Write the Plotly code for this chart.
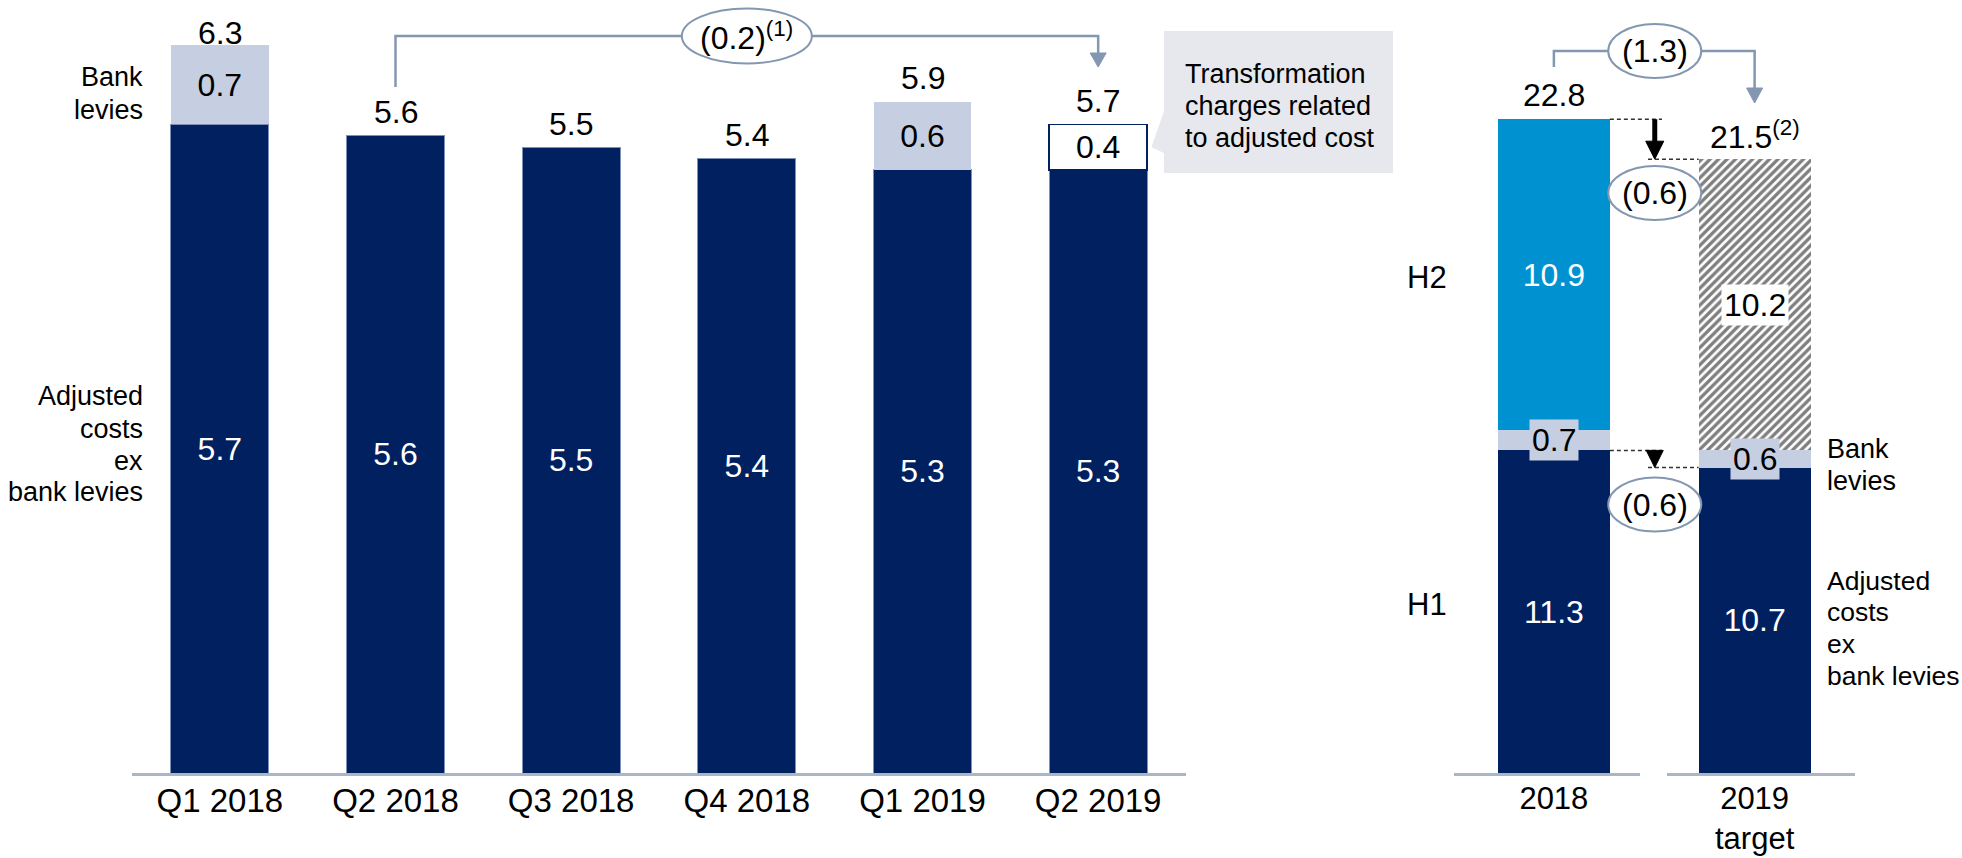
import plotly.graph_objects as go

W, H = 1962, 858

# ---------------- data ----------------
quarters = ["Q1 2018", "Q2 2018", "Q3 2018", "Q4 2018", "Q1 2019", "Q2 2019"]
adj_costs_q = [5.7, 5.6, 5.5, 5.4, 5.3, 5.3]
bank_levies_q = [0.7, None, None, None, 0.6, None]
transformation_q = [None, None, None, None, None, 0.4]
totals_q = [6.3, 5.6, 5.5, 5.4, 5.9, 5.7]

years = ["2018", "2019<br>target"]
h1_adj = [11.3, 10.7]
h1_levies = [0.7, 0.6]
h2_actual = [10.9, None]
h2_target = [None, 10.2]
totals_y = [22.8, 21.5]
totals_y_text = ["22.8", "21.5<sup>(2)</sup>"]

NAVY = "#002060"
LIGHT = "#C5CFE1"
BLUE = "#0092D0"
GREYBOX = "#E6E8ED"
BRACKET = "#8497B0"
FONT = "Arial, Liberation Sans, sans-serif"

BASE = 773.0          # pixel y of baseline
PXU_L = 113.8         # px per unit, left chart
PXU_R = 28.55         # px per unit, right chart


def fmt(v):
    return None if v is None else f"{v:.1f}"


fig = go.Figure()

# ---------------- left chart ----------------
fig.add_trace(go.Bar(
    x=quarters, y=adj_costs_q, xaxis="x", yaxis="y",
    marker=dict(color=NAVY, line=dict(color="#7F90B8", width=1)),
    text=[fmt(v) for v in adj_costs_q], textposition="inside",
    insidetextanchor="middle", textangle=0,
    textfont=dict(color="white", size=32, family=FONT),
    hoverinfo="skip", showlegend=False))
fig.add_trace(go.Bar(
    x=quarters, y=bank_levies_q, xaxis="x", yaxis="y",
    marker=dict(color=LIGHT, line=dict(width=0)),
    text=[fmt(v) for v in bank_levies_q], textposition="inside",
    insidetextanchor="middle", textangle=0,
    textfont=dict(color="black", size=32, family=FONT),
    hoverinfo="skip", showlegend=False))
fig.add_trace(go.Bar(
    x=quarters, y=transformation_q, xaxis="x", yaxis="y",
    marker=dict(color="white", line=dict(color=NAVY, width=1.5)),
    text=[fmt(v) for v in transformation_q], textposition="inside",
    insidetextanchor="middle", textangle=0,
    textfont=dict(color="black", size=32, family=FONT),
    hoverinfo="skip", showlegend=False))

# ---------------- right chart ----------------
fig.add_trace(go.Bar(
    x=years, y=h1_adj, xaxis="x2", yaxis="y2",
    marker=dict(color=NAVY, line=dict(width=0)),
    text=[fmt(v) for v in h1_adj], textposition="inside",
    insidetextanchor="middle", textangle=0,
    textfont=dict(color="white", size=32, family=FONT),
    hoverinfo="skip", showlegend=False))
fig.add_trace(go.Bar(
    x=years, y=h1_levies, xaxis="x2", yaxis="y2",
    marker=dict(color=LIGHT, line=dict(width=0)),
    hoverinfo="skip", showlegend=False))
fig.add_trace(go.Bar(
    x=years, y=h2_actual, xaxis="x2", yaxis="y2",
    marker=dict(color=BLUE, line=dict(width=0)),
    text=[fmt(v) for v in h2_actual], textposition="inside",
    insidetextanchor="middle", textangle=0,
    textfont=dict(color="white", size=32, family=FONT),
    hoverinfo="skip", showlegend=False))
fig.add_trace(go.Bar(
    x=years, y=h2_target, xaxis="x2", yaxis="y2",
    marker=dict(color="white", line=dict(width=0),
                pattern=dict(shape="/", fgcolor="black", bgcolor="white",
                             size=6, solidity=0.55)),
    hoverinfo="skip", showlegend=False))

# ---------------- helpers ----------------
def px(x):
    return x / W


def py(y):
    return 1 - y / H


shapes = []
annotations = []


def text(x, y, s, size=27, anchor="center", color="black", **kw):
    annotations.append(dict(
        x=px(x), y=py(y), xref="paper", yref="paper", text=s, showarrow=False,
        xanchor=anchor, yanchor="middle",
        font=dict(size=size, color=color, family=FONT), **kw))


def path(points, fill=None, color=BRACKET, width=2.5, dash=None, close=False):
    d = "M " + " L ".join(f"{px(x):.5f},{py(y):.5f}" for x, y in points)
    if close:
        d += " Z"
    shp = dict(type="path", path=d, xref="paper", yref="paper",
               line=dict(color=color, width=width))
    if dash:
        shp["line"]["dash"] = dash
    if fill:
        shp["fillcolor"] = fill
    shapes.append(shp)


def ellipse(cx, cy, w, h):
    shapes.append(dict(type="circle", xref="paper", yref="paper",
                       x0=px(cx - w / 2), x1=px(cx + w / 2),
                       y0=py(cy + h / 2), y1=py(cy - h / 2),
                       fillcolor="white", line=dict(color=BRACKET, width=2)))


# left panel category centres (pixels)
L0, L1 = 132.0, 1186.0
step_l = (L1 - L0) / len(quarters)
cx_l = [L0 + step_l * (i + 0.5) for i in range(len(quarters))]
R0, R1 = 1453.5, 1855.0
step_r = (R1 - R0) / len(years)
cx_r = [R0 + step_r * (i + 0.5) for i in range(len(years))]

# totals above left bars
for i, t in enumerate(totals_q):
    ytop = BASE - t * PXU_L - 23.5
    text(cx_l[i], ytop, f"{t:.1f}", size=32)

# left side labels
OFF = 4
text(145, 73 + OFF, "Bank", anchor="right")
text(145, 106 + OFF, "levies", anchor="right")
for s, y in zip(["Adjusted", "costs", "ex", "bank levies"], [392, 425, 457, 488]):
    text(145, y + OFF, s, anchor="right")

# bracket (0.2)
path([(cx_l[1], 87), (cx_l[1], 36), (cx_l[5], 36), (cx_l[5], 55)])
path([(cx_l[5] - 8, 53), (cx_l[5] + 8, 53), (cx_l[5], 67)], fill=BRACKET,
     width=1, close=True)
ellipse(cx_l[3], 36, 130, 55)
text(cx_l[3], 36, "(0.2)<sup>(1)</sup>", size=32)

# callout box
shapes.append(dict(type="rect", xref="paper", yref="paper",
                   x0=px(1164), x1=px(1393), y0=py(173), y1=py(31),
                   fillcolor=GREYBOX, line=dict(width=0), layer="below"))
path([(1165, 110), (1152, 147), (1165, 153)], fill=GREYBOX, color=GREYBOX,
     width=1, close=True)
for s, y in zip(["Transformation", "charges related", "to adjusted cost"],
                [71, 103, 135]):
    text(1183, y + 3, s, anchor="left")

# ---------------- right panel decorations ----------------
for i, s in enumerate(totals_y_text):
    top = BASE - (h1_adj[i] + h1_levies[i] + (h2_actual[i] or 0) + (h2_target[i] or 0)) * PXU_R
    text(cx_r[i], top - 24, s, size=32)

# bracket (1.3)
path([(cx_r[0], 67), (cx_r[0], 51), (cx_r[1], 51), (cx_r[1], 90)])
path([(cx_r[1] - 8, 88), (cx_r[1] + 8, 88), (cx_r[1], 103)], fill=BRACKET,
     width=1, close=True)
mid = (cx_r[0] + cx_r[1]) / 2 + 0.5
ellipse(mid, 51, 93, 54)
text(mid, 51, "(1.3)", size=32)

# dashed connectors
top18 = BASE - (h1_adj[0] + h1_levies[0] + h2_actual[0]) * PXU_R
top19 = BASE - (h1_adj[1] + h1_levies[1] + h2_target[1]) * PXU_R
adj18 = BASE - h1_adj[0] * PXU_R
adj19 = BASE - h1_adj[1] * PXU_R
bw = 112
DASH = "#333333"
path([(cx_r[0] + bw / 2, top18), (1662, top18)], color=DASH, width=1.5, dash="4px,3px")
path([(1648, top19), (cx_r[1] - bw / 2, top19)], color=DASH, width=1.5, dash="4px,3px")
path([(cx_r[0] + bw / 2, adj18), (1662, adj18)], color=DASH, width=1.5, dash="4px,3px")
path([(1648, adj19), (cx_r[1] - bw / 2, adj19)], color=DASH, width=1.5, dash="4px,3px")
# black arrow (upper)
path([(mid, top18), (mid, top19 - 15)], color="black", width=5)
path([(mid - 9, top19 - 18), (mid + 9, top19 - 18), (mid, top19)],
     fill="black", color="black", width=1, close=True)
# black triangle (lower)
path([(mid - 8.5, adj18), (mid + 8.5, adj18), (mid, adj19)],
     fill="black", color="black", width=1, close=True)

ellipse(mid, 193, 93, 54)
text(mid, 193, "(0.6)", size=32)
ellipse(mid, 504.5, 93, 54)
text(mid, 504.5, "(0.6)", size=32)

# labels on levies / hatched segments
for i, v in enumerate(h1_levies):
    yc = BASE - (h1_adj[i] + v / 2) * PXU_R
    text(cx_r[i], yc, f"{v:.1f}", size=32, bgcolor=LIGHT, borderpad=2)
yc = BASE - (h1_adj[1] + h1_levies[1] + h2_target[1] / 2) * PXU_R
text(cx_r[1], yc, f"{h2_target[1]:.1f}", size=32, bgcolor="white", borderpad=2)

text(1427, 277, "H2", size=31)
text(1427, 604, "H1", size=31)
text(1825, 445 + OFF, "Bank", anchor="left")
text(1825, 477 + OFF, "levies", anchor="left")
for s, y in zip(["Adjusted", "costs", "ex", "bank levies"], [577, 608, 640, 672]):
    text(1825, y + OFF, s, anchor="left", size=26.5)

# gap in right axis line
shapes.append(dict(type="rect", xref="paper", yref="paper",
                   x0=px(1640), x1=px(1667), y0=py(777), y1=py(769),
                   fillcolor="white", line=dict(width=0), layer="above"))

ydom = [py(BASE), 1]
axis_common = dict(showline=True, linecolor="#A9B6C8", linewidth=2.5, ticks="",
                   showgrid=False, zeroline=False, type="category",
                   fixedrange=True, automargin=False)

fig.update_layout(
    width=W, height=H, margin=dict(l=0, r=0, t=0, b=0, autoexpand=False),
    paper_bgcolor="white", plot_bgcolor="white",
    barmode="stack", bargap=0.443,
    xaxis=dict(domain=[px(L0), px(L1)], anchor="y", range=[-0.5, 5.5],
               ticklabelstandoff=-3,
               tickfont=dict(size=33, color="black", family=FONT), **axis_common),
    yaxis=dict(domain=ydom, range=[0, BASE / PXU_L], visible=False, fixedrange=True,
               automargin=False),
    xaxis2=dict(domain=[px(R0), px(R1)], anchor="y2", range=[-0.5, 1.5],
                ticklabelstandoff=-4,
                tickfont=dict(size=31, color="black", family=FONT), **axis_common),
    yaxis2=dict(domain=ydom, range=[0, BASE / PXU_R], visible=False, fixedrange=True,
                automargin=False),
    shapes=shapes, annotations=annotations,
    font=dict(family=FONT, color="black"),
    uniformtext=dict(mode=False),
)

fig.write_html("out.html", config={"displayModeBar": False},
               post_script="document.body.style.margin='0';")
